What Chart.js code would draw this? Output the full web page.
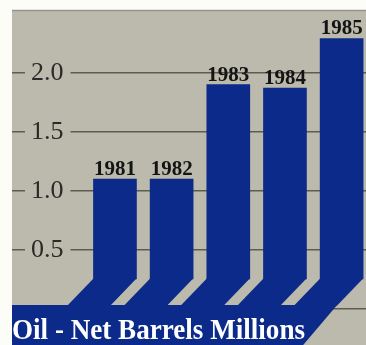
<!DOCTYPE html>
<html><head><meta charset="utf-8">
<script src="https://cdn.jsdelivr.net/npm/chart.js@4/dist/chart.umd.min.js"></script>
<style>html,body{margin:0;padding:0;background:#fff;}canvas{display:block}</style>
</head><body>
<canvas id="c" width="366" height="345"></canvas>
<script>
// ---- data ----
const years = [1981, 1982, 1983, 1984, 1985];
const values = [1.10, 1.10, 1.90, 1.87, 2.29];
const tickValues = [0, 0.5, 1.0, 1.5, 2.0];
const tickLabels = ['', '0.5', '1.0', '1.5', '2.0'];
const chartTitle = 'Oil - Net Barrels Millions';

// ---- style ----
const BLUE = '#0b2a8a';
const GRAY = '#bcbaad';
const GRID = 'rgba(88,86,76,0.95)';
const SERIF = '"Liberation Serif", "DejaVu Serif", serif';
const LEG = 26;      // diagonal leg size (px)

const bgPlugin = {
  id: 'bg',
  beforeDraw(chart) {
    const {ctx, chartArea: a} = chart;
    ctx.save();
    ctx.fillStyle = '#fdfdf8';
    ctx.fillRect(0, 0, chart.width, chart.height);
    ctx.fillStyle = GRAY;
    ctx.fillRect(a.left, a.top, a.right - a.left, a.bottom - a.top);
    ctx.strokeStyle = '#96948a';
    ctx.lineWidth = 1.5;
    ctx.beginPath(); ctx.moveTo(a.left, a.top + 0.5); ctx.lineTo(a.right, a.top + 0.5); ctx.stroke();
    ctx.restore();
  }
};

const swooshPlugin = {
  id: 'swoosh',
  afterDatasetsDraw(chart) {
    const {ctx, chartArea: a} = chart;
    const meta = chart.getDatasetMeta(0);
    ctx.save();
    ctx.fillStyle = BLUE;
    let bandTop = null, lastRight = null;
    meta.data.forEach((bar) => {
      const p = bar.getProps(['x', 'y', 'width', 'base'], true);
      const l = p.x - p.width / 2, r = p.x + p.width / 2;
      bandTop = p.base + LEG;
      lastRight = r;
      ctx.beginPath();
      ctx.moveTo(l, p.base - 0.5);
      ctx.lineTo(r, p.base - 0.5);
      ctx.lineTo(r - LEG, bandTop + 0.5);
      ctx.lineTo(l - LEG, bandTop + 0.5);
      ctx.closePath();
      ctx.fill();
    });
    // bottom band
    const k = 0.85;
    ctx.beginPath();
    ctx.moveTo(a.left, bandTop);
    ctx.lineTo(lastRight - LEG, bandTop);
    ctx.lineTo(lastRight - LEG - (a.bottom - bandTop) * k, a.bottom);
    ctx.lineTo(a.left, a.bottom);
    ctx.closePath();
    ctx.fill();
    // year labels
    ctx.fillStyle = '#141414';
    ctx.font = 'bold 21px ' + SERIF;
    ctx.textAlign = 'center';
    ctx.textBaseline = 'alphabetic';
    meta.data.forEach((bar, i) => {
      const p = bar.getProps(['x', 'y'], true);
      ctx.fillText(String(years[i]), p.x, p.y - 4);
    });
    // title
    ctx.fillStyle = '#ffffff';
    ctx.font = 'bold 30px ' + SERIF;
    ctx.textAlign = 'left';
    const w = ctx.measureText(chartTitle).width;
    const target = 293;
    ctx.translate(a.left, 339);
    ctx.scale(target / w, 1);
    ctx.fillText(chartTitle, 0, 0);
    ctx.restore();
  }
};

new Chart(document.getElementById('c'), {
  type: 'bar',
  data: {
    datasets: [{
      data: years.map((yr, i) => ({x: yr, y: values[i]})),
      backgroundColor: BLUE,
      borderWidth: 0,
      barThickness: 43,
      base: 0.255
    }]
  },
  options: {
    responsive: false,
    animation: false,
    devicePixelRatio: 1,
    layout: {padding: {left: 12, top: 10, right: 0, bottom: 0}},
    plugins: {legend: {display: false}, tooltip: {enabled: false}, title: {display: false}},
    scales: {
      x: {
        type: 'linear',
        offset: false,
        min: 1979.183,
        max: 1985.43,
        display: false,
        grid: {display: false}
      },
      y: {
        position: 'left',
        min: -0.303,
        max: 2.531,
        border: {display: false},
        afterBuildTicks(scale) { scale.ticks = tickValues.map(v => ({value: v})); },
        afterFit(scale) {
          scale.width = 0;
          scale.paddingTop = 0; scale.paddingBottom = 0;
          scale.paddingLeft = 0; scale.paddingRight = 0;
        },
        grid: {
          drawTicks: false,
          color: GRID,
          lineWidth: 1.5
        },
        ticks: {
          mirror: true,
          padding: 19,
          color: '#2a2a28',
          font: {family: SERIF, size: 26},
          callback: (v) => tickLabels[tickValues.indexOf(v)] ?? '',
          showLabelBackdrop: true,
          backdropColor: (c) => (c.tick && c.tick.value === 0) ? 'rgba(0,0,0,0)' : GRAY,
          backdropPadding: {left: 6, right: 7, top: 0, bottom: 0}
        }
      }
    }
  },
  plugins: [bgPlugin, swooshPlugin]
});
</script>
</body></html>
